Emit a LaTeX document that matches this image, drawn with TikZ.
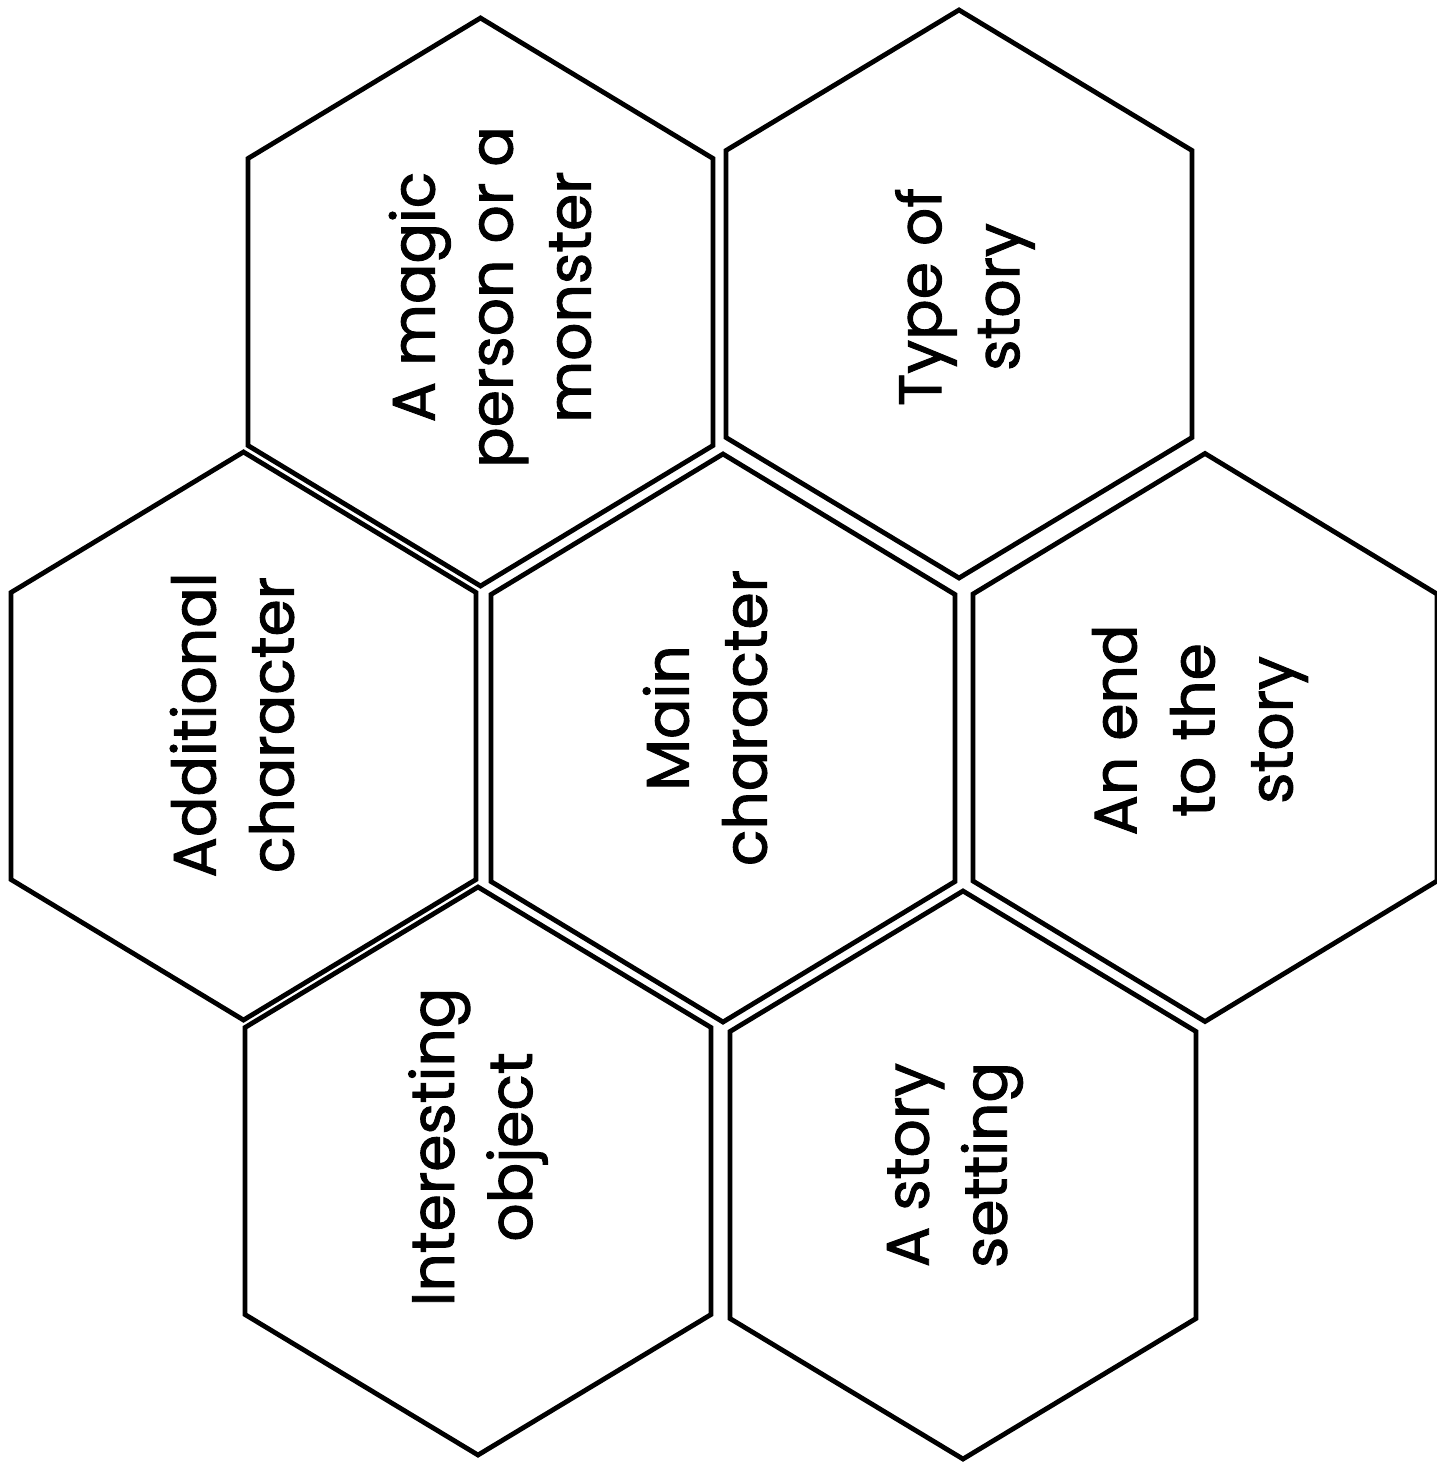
\documentclass[tikz,border=0pt]{standalone}
\usepackage{fontspec}
\setmainfont{Poppins}[FakeBold=1.5]
\begin{document}
\begin{tikzpicture}[x=1pt,y=-1pt,
  hexline/.style={line width=4.8pt,line join=miter,black},
  lbl/.style={rotate=90,align=center,font=\fontsize{60}{78}\selectfont,inner sep=0pt}]
\useasboundingbox[fill=white] (0,0) rectangle (1436,1466);
\newcommand\hexcell[3]{%
  \draw[hexline] (#1,#2-284) -- (#1-#3,#2-143.5) -- (#1-#3,#2+143.5) -- (#1,#2+284)
    -- (#1+#3,#2+143.5) -- (#1+#3,#2-143.5) -- cycle;}
\hexcell{480.5}{302}{232.5}
\hexcell{959}{294}{233}
\hexcell{243.5}{736}{232.5}
\hexcell{723}{738}{232}
\hexcell{1205}{737.5}{232}
\hexcell{478}{1171}{233}
\hexcell{963}{1175}{233}
\node[lbl] (magic) at (490,297) {A magic\\person or a\\monster};
\node[lbl] (type) at (965,297) {Type of\\story};
\node[lbl] (addl) at (232,725) {Additional\\character};
\node[lbl] (main) at (705,718) {Main\\character};
\node[lbl] (end) at (1200,730) {An end\\to the\\story};
\node[lbl] (obj) at (478,1147) {Interesting\\object};
\node[lbl] (setting) at (955,1165) {A story\\setting};
\end{tikzpicture}
\end{document}
